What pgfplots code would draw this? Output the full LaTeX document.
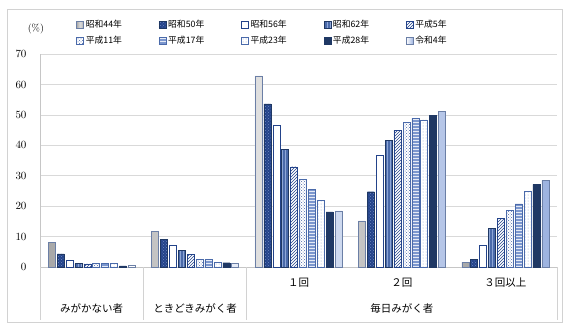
\documentclass[border=0pt]{standalone}
\usepackage{pgfplots}
\pgfplotsset{compat=1.18}
\usetikzlibrary{patterns}
\usepackage{fontspec}
\newfontfamily\jp{Noto Sans CJK JP}
\definecolor{gridc}{HTML}{D9D9D9}
\definecolor{navy}{HTML}{1F3864}
\definecolor{navyb}{HTML}{23438A}
\definecolor{midb}{HTML}{4A6AAA}
\definecolor{lightb}{HTML}{8EA6D6}
\definecolor{edge}{HTML}{6B7FA6}
\definecolor{hb}{HTML}{7C97CE}
\definecolor{gr}{HTML}{A8A8A8}
\definecolor{rb}{HTML}{9DB3E0}
\begin{document}
\begin{tikzpicture}[x=1pt,y=1pt]
\draw[gray!35, line width=0.8pt] (7,5) rectangle (562,318);
\begin{axis}[
  at={(40pt,59.7pt)}, anchor=south west,
  scale only axis, width=517pt, height=213.3pt,
  ybar=1.9pt, bar width=7pt,
  xmin=-0.5, xmax=4.5, ymin=0, ymax=70,
  ytick={0,10,...,70}, xtick=\empty,
  ymajorgrids, grid style={draw=gridc, line width=0.8pt},
  axis x line*=bottom, axis y line*=left,
  axis line style={draw=gray!45, line width=0.8pt},
  major tick length=0,
  yticklabel style={font=\fontsize{10.5}{12}\selectfont, xshift=-10pt},
  clip=false,
  legend columns=5,
  legend style={at={(0.070,1.168)}, anchor=north west, draw=none, fill=none,
    inner sep=0pt, row sep=3pt,
    font=\jp\fontsize{8.8}{10}\selectfont},
  legend cell align=left,
  legend image code/.code={\draw[#1] (0pt,-3.5pt) rectangle (7pt,3.5pt);},
]
\addplot[draw=edge, left color=gr, right color=gr, middle color=gray!25] coordinates {(0,8.1) (1,11.7) (2,62.8) (3,15.2) (4,1.7)};
\addlegendentry{\makebox[71pt][l]{昭和44年}}
\addplot[draw=navy, fill=navyb, postaction={pattern=crosshatch dots, pattern color=lightb!70!navyb}] coordinates {(0,4.4) (1,9.2) (2,53.6) (3,24.8) (4,2.5)};
\addlegendentry{\makebox[71pt][l]{昭和50年}}
\addplot[draw=navyb, fill=white] coordinates {(0,2.4) (1,7.1) (2,46.6) (3,36.7) (4,7.4)};
\addlegendentry{\makebox[71pt][l]{昭和56年}}
\addplot[draw=navy, fill=midb, postaction={pattern=vertical lines, pattern color=lightb}] coordinates {(0,1.2) (1,5.6) (2,38.6) (3,41.6) (4,12.8)};
\addlegendentry{\makebox[71pt][l]{昭和62年}}
\addplot[draw=navyb, fill=white, postaction={pattern=north east lines, pattern color=navyb}] coordinates {(0,1.1) (1,4.2) (2,33.0) (3,44.9) (4,16.0)};
\addlegendentry{\makebox[71pt][l]{平成5年}}
\addplot[draw=midb, fill=white, postaction={pattern=crosshatch dots, pattern color=midb}] coordinates {(0,1.2) (1,2.6) (2,28.9) (3,47.6) (4,18.6)};
\addlegendentry{\makebox[71pt][l]{平成11年}}
\addplot[draw=midb, fill=hb, postaction={pattern=horizontal lines, pattern color=white!80!hb}] coordinates {(0,1.3) (1,2.5) (2,25.6) (3,48.9) (4,20.8)};
\addlegendentry{\makebox[71pt][l]{平成17年}}
\addplot[draw=midb, fill=white, postaction={pattern=dots, pattern color=lightb}] coordinates {(0,1.2) (1,1.7) (2,22.0) (3,48.4) (4,25.1)};
\addlegendentry{\makebox[71pt][l]{平成23年}}
\addplot[draw=navy, fill=navy] coordinates {(0,0.5) (1,1.5) (2,18.2) (3,49.9) (4,27.2)};
\addlegendentry{\makebox[71pt][l]{平成28年}}
\addplot[draw=edge, left color=white, right color=rb] coordinates {(0,0.7) (1,1.4) (2,18.5) (3,51.2) (4,28.5)};
\addlegendentry{\makebox[71pt][l]{令和4年}}
\draw[gray!35, line width=0.8pt] (axis cs:0.5,0) -- (axis cs:0.5,-17.2);
\draw[gray!35, line width=0.8pt] (axis cs:1.5,0) -- (axis cs:1.5,-17.2);
\draw[gray!35, line width=0.8pt] (axis cs:4.5,0) -- (axis cs:4.5,-17.2);
\draw[gray!35, line width=0.8pt] (axis cs:-0.5,0) -- (axis cs:-0.5,-17.2);
\node[font=\jp\fontsize{10.5}{12}\selectfont] at (axis cs:2,-5.15) {１回};
\node[font=\jp\fontsize{10.5}{12}\selectfont] at (axis cs:3,-5.15) {２回};
\node[font=\jp\fontsize{10.5}{12}\selectfont] at (axis cs:4,-5.15) {３回以上};
\node[font=\jp\fontsize{10.5}{12}\selectfont] at (axis cs:0,-13.6) {みがかない者};
\node[font=\jp\fontsize{10.5}{12}\selectfont] at (axis cs:1,-13.6) {ときどきみがく者};
\node[font=\jp\fontsize{10.5}{12}\selectfont] at (axis cs:3,-13.6) {毎日みがく者};
\node[font=\fontsize{10}{12}\selectfont] at (axis description cs:-0.008,1.117) {(\%)};
\end{axis}
\pgfresetboundingbox
\path (0,0) rectangle (567pt,327pt);
\end{tikzpicture}
\end{document}
